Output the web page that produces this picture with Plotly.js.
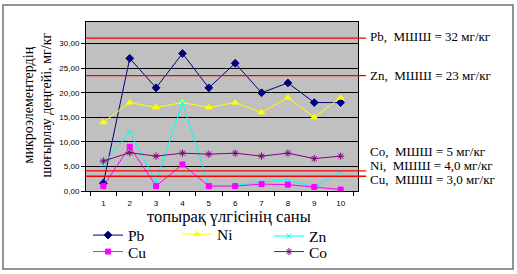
<!DOCTYPE html>
<html><head><meta charset="utf-8">
<script src="https://cdn.plot.ly/plotly-3.0.1.min.js"></script>
<style>html,body{margin:0;padding:0;background:#fff;}#chart{width:517px;height:274px;}</style>
</head><body><div id="chart"></div>
<script>
const samples = ["1","2","3","4","5","6","7","8","9","10"];
const pb = [1.6, 27, 21, 28, 21, 26, 20, 22, 18, 18];
const ni = [14, 18, 17, 18, 17, 18, 16, 19, 15, 19];
const zn = [5.5, 12, 1.8, 18, 1.1, 1.1, 1.8, 2.3, 0.8, 3.9];
const cu = [1.0, 9, 1.0, 5.4, 1.0, 1.0, 1.4, 1.3, 0.8, 0.3];
const co = [6.1, 7.8, 7.1, 7.7, 7.5, 7.7, 7.1, 7.7, 6.6, 7.1];
const yTicks = [0, 5, 10, 15, 20, 25, 30];
const yTickText = ["0,00","5,00","10,00","15,00","20,00","25,00","30,00"];
const limitValues = [31.1, 23.5, 4.1, 3.0];
const limitLabels = ["Pb,  МШШ = 32 мг/кг","Zn,  МШШ = 23 мг/кг","Co,  МШШ = 5 мг/кг","Ni,  МШШ = 4,0 мг/кг","Cu,  МШШ = 3,0 мг/кг"];
const limitLabelY = [31.5, 23.6, 8.1, 5.2, 2.35];

const serif = "Liberation Serif, Times New Roman, serif";
const sans = "Liberation Sans, Arial, sans-serif";

function tr(name, y, color, symbol, size, legend) {
  return {
    type: "scatter", mode: "lines+markers", name: name, x: samples, y: y, legend: legend,
    line: {color: color, width: 1},
    marker: {color: color, symbol: symbol, size: size, line: {color: color, width: 1}}
  };
}
const traces = [
  tr("Pb", pb, "#000080", "diamond", 6, "legend"),
  tr("Ni", ni, "#FFFF00", "triangle-up", 6, "legend2"),
  tr("Zn", zn, "#00FFFF", "x-thin-open", 5, "legend3"),
  tr("Cu", cu, "#FF00FF", "square", 5, "legend4"),
  tr("Co", co, "#800080", "asterisk-open", 6, "legend5")
];

const shapes = limitValues.map(v => ({
  type: "line", xref: "paper", yref: "y", x0: 0, x1: 1.03, y0: v, y1: v,
  line: {color: "#FF0000", width: 1.3}, layer: "above"
}));
shapes.push({type:"rect", xref:"paper", yref:"paper",
  x0:(3-86)/272, x1:(513-86)/272, y0:(191-269)/169, y1:(191-5)/169,
  line:{color:"#707070", width:1.5}, fillcolor:"rgba(0,0,0,0)"});

const annotations = limitLabels.map((t, i) => ({
  xref: "paper", yref: "y", x: 1.035, y: limitLabelY[i], xanchor: "left", yanchor: "middle",
  text: t, showarrow: false, font: {family: serif, size: 13, color: "#000"}
}));
annotations.push({xref:"paper", yref:"paper", x:(229-86)/272, y:(191-216)/169,
  xanchor:"center", yanchor:"middle", showarrow:false, text:"топырақ үлгісінің саны",
  font:{family:serif, size:16.5, color:"#000"}});
annotations.push({xref:"paper", yref:"paper", x:(37.5-86)/272, y:(191-105)/169,
  xanchor:"center", yanchor:"middle", showarrow:false, textangle:-90,
  text:"микроэлементердің<br>шоғырлау деңгейі, мг/кг",
  font:{family:serif, size:14, color:"#000"}});

function leg(xpx, ypx) {
  return {xref: "container", yref: "container", x: xpx/517, y: (274-ypx)/274,
    xanchor: "left", yanchor: "middle", orientation: "v", itemwidth: 30, tracegroupgap: 0,
    font: {family: serif, size: 15.5, color: "#000"}, bgcolor: "rgba(0,0,0,0)", borderwidth: 0};
}

const layout = {
  width: 517, height: 274,
  margin: {l: 86, r: 159, t: 22, b: 83, autoexpand: false},
  paper_bgcolor: "#FFFFFF", plot_bgcolor: "#C0C0C0",
  showlegend: true,
  legend: leg(88, 235.5), legend2: leg(177, 234.5), legend3: leg(269, 236.5),
  legend4: leg(88, 252), legend5: leg(269, 252),
  xaxis: {type: "category", tickson: "boundaries", ticks: "outside", ticklen: 4, tickcolor: "#000",
    showgrid: false, showline: true, linecolor: "#000", linewidth: 1, mirror: true,
    ticklabelstandoff: 4,
    tickfont: {family: sans, size: 8, color: "#000"}, fixedrange: true},
  yaxis: {range: [0, 34.4], tickvals: yTicks, ticktext: yTickText, ticks: "outside", ticklen: 4,
    tickcolor: "#000", showgrid: true, gridcolor: "#000", gridwidth: 1, zeroline: false,
    showline: true, linecolor: "#000", linewidth: 1, mirror: true,
    tickfont: {family: sans, size: 8, color: "#000"}, fixedrange: true},
  shapes: shapes, annotations: annotations
};
Plotly.newPlot("chart", traces, layout, {displayModeBar: false, staticPlot: true});
</script></body></html>
